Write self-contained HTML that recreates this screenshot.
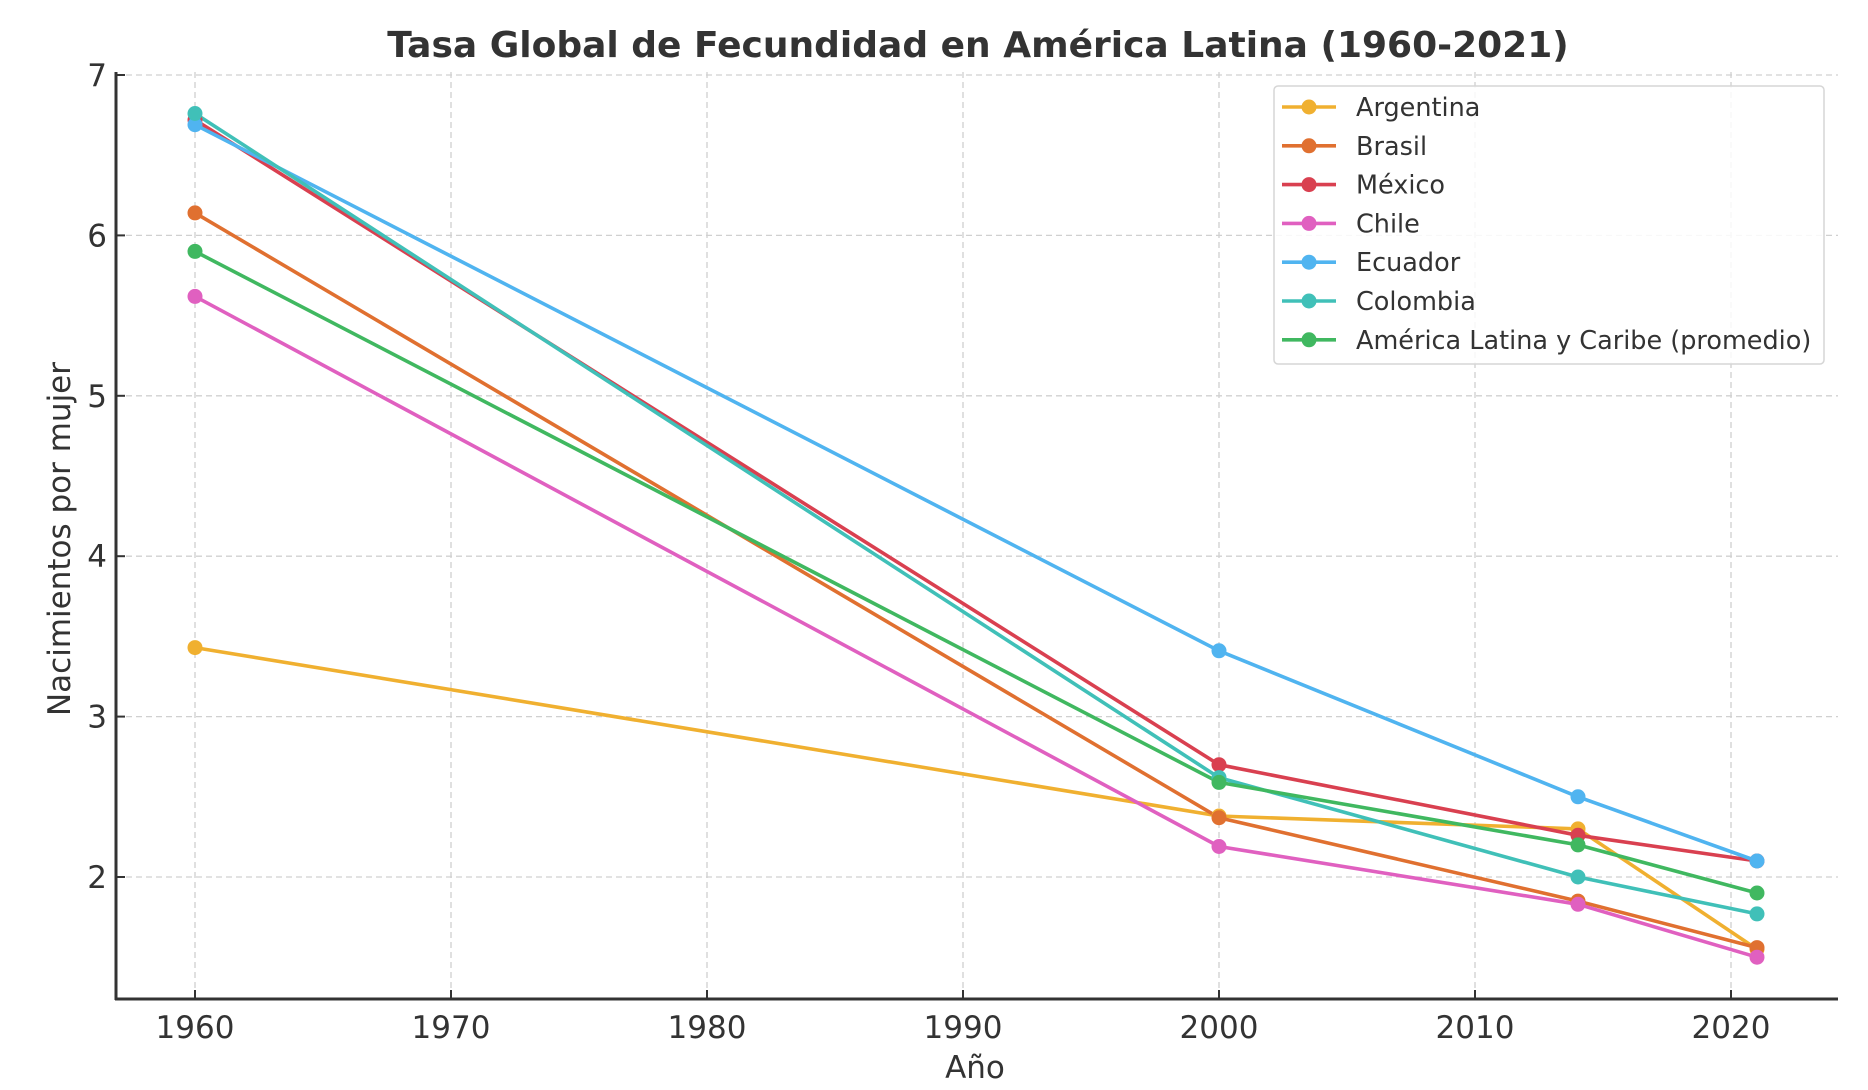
<!DOCTYPE html>
<html><head><meta charset="utf-8"><style>html,body{margin:0;padding:0;background:#fff}svg{display:block}</style></head>
<body>
<svg width="1868" height="1090" viewBox="0 0 1868 1090" xmlns="http://www.w3.org/2000/svg" font-family="DejaVu Sans, Liberation Sans, sans-serif">
<rect width="1868" height="1090" fill="#fff"/>
<text x="978" y="57" text-anchor="middle" font-size="36" font-weight="bold" fill="#333">Tasa Global de Fecundidad en América Latina (1960-2021)</text>
<g stroke="#d0d0d0" stroke-width="1.3" stroke-dasharray="6,4">
<line x1="195" y1="72" x2="195" y2="999"/><line x1="451" y1="72" x2="451" y2="999"/><line x1="707" y1="72" x2="707" y2="999"/><line x1="963" y1="72" x2="963" y2="999"/><line x1="1219" y1="72" x2="1219" y2="999"/><line x1="1475" y1="72" x2="1475" y2="999"/><line x1="1731" y1="72" x2="1731" y2="999"/>
<line x1="116" y1="75" x2="1838" y2="75"/><line x1="116" y1="235.4" x2="1838" y2="235.4"/><line x1="116" y1="395.8" x2="1838" y2="395.8"/><line x1="116" y1="556.2" x2="1838" y2="556.2"/><line x1="116" y1="716.6" x2="1838" y2="716.6"/><line x1="116" y1="877" x2="1838" y2="877"/>
</g>
<g stroke="#333" stroke-width="3" fill="none">
<line x1="116" y1="72" x2="116" y2="1000"/><line x1="115" y1="999" x2="1838" y2="999"/>
</g>
<g stroke="#333" stroke-width="2">
<line x1="116" y1="75" x2="125" y2="75"/><line x1="116" y1="235.4" x2="125" y2="235.4"/><line x1="116" y1="395.8" x2="125" y2="395.8"/><line x1="116" y1="556.2" x2="125" y2="556.2"/><line x1="116" y1="716.6" x2="125" y2="716.6"/><line x1="116" y1="877" x2="125" y2="877"/>
<line x1="195" y1="999" x2="195" y2="990"/><line x1="451" y1="999" x2="451" y2="990"/><line x1="707" y1="999" x2="707" y2="990"/><line x1="963" y1="999" x2="963" y2="990"/><line x1="1219" y1="999" x2="1219" y2="990"/><line x1="1475" y1="999" x2="1475" y2="990"/><line x1="1731" y1="999" x2="1731" y2="990"/>
</g>
<g font-size="31" fill="#333" text-anchor="end">
<text x="107" y="86">7</text><text x="107" y="246.4">6</text><text x="107" y="406.8">5</text><text x="107" y="567.2">4</text><text x="107" y="727.6">3</text><text x="107" y="888">2</text>
</g>
<g font-size="31" fill="#333" text-anchor="middle">
<text x="195" y="1038">1960</text><text x="451" y="1038">1970</text><text x="707" y="1038">1980</text><text x="963" y="1038">1990</text><text x="1219" y="1038">2000</text><text x="1475" y="1038">2010</text><text x="1731" y="1038">2020</text>
<text x="975" y="1078">Año</text>
<text transform="translate(70,539) rotate(-90)">Nacimientos por mujer</text>
</g>
<g stroke-width="3.6" fill="none" stroke-linejoin="round">
<polyline stroke="#f0b030" points="195,647.6 1219,816 1578,828.9 1757,949.2"/>
<polyline stroke="#e07030" points="195,212.9 1219,817.7 1578,901.1 1757,947.6"/>
<polyline stroke="#d94050" points="195,119.9 1219,764.7 1578,835.3 1757,861"/>
<polyline stroke="#e060c0" points="195,296.4 1219,846.5 1578,904.3 1757,957.2"/>
<polyline stroke="#50b4f0" points="195,124.7 1219,650.8 1578,796.8 1757,861"/>
<polyline stroke="#40c0b8" points="195,113.5 1219,777.6 1578,877 1757,913.9"/>
<polyline stroke="#40b860" points="195,251.4 1219,782.4 1578,844.9 1757,893"/>
</g>
<g>
<g fill="#f0b030"><circle cx="195" cy="647.6" r="7.5"/><circle cx="1219" cy="816" r="7.5"/><circle cx="1578" cy="828.9" r="7.5"/><circle cx="1757" cy="949.2" r="7.5"/></g>
<g fill="#e07030"><circle cx="195" cy="212.9" r="7.5"/><circle cx="1219" cy="817.7" r="7.5"/><circle cx="1578" cy="901.1" r="7.5"/><circle cx="1757" cy="947.6" r="7.5"/></g>
<g fill="#d94050"><circle cx="195" cy="119.9" r="7.5"/><circle cx="1219" cy="764.7" r="7.5"/><circle cx="1578" cy="835.3" r="7.5"/><circle cx="1757" cy="861" r="7.5"/></g>
<g fill="#e060c0"><circle cx="195" cy="296.4" r="7.5"/><circle cx="1219" cy="846.5" r="7.5"/><circle cx="1578" cy="904.3" r="7.5"/><circle cx="1757" cy="957.2" r="7.5"/></g>
<g fill="#50b4f0"><circle cx="195" cy="124.7" r="7.5"/><circle cx="1219" cy="650.8" r="7.5"/><circle cx="1578" cy="796.8" r="7.5"/><circle cx="1757" cy="861" r="7.5"/></g>
<g fill="#40c0b8"><circle cx="195" cy="113.5" r="7.5"/><circle cx="1219" cy="777.6" r="7.5"/><circle cx="1578" cy="877" r="7.5"/><circle cx="1757" cy="913.9" r="7.5"/></g>
<g fill="#40b860"><circle cx="195" cy="251.4" r="7.5"/><circle cx="1219" cy="782.4" r="7.5"/><circle cx="1578" cy="844.9" r="7.5"/><circle cx="1757" cy="893" r="7.5"/></g>
</g>
<rect x="1274" y="86" width="550" height="278" rx="4" fill="#fff" fill-opacity="0.85" stroke="#d6d6d6" stroke-width="1.5"/>
<g stroke-width="3.6" font-size="25.5" fill="#333">
<line x1="1282" y1="107" x2="1336" y2="107" stroke="#f0b030"/><circle cx="1309" cy="107" r="7.5" fill="#f0b030"/><text x="1356" y="116">Argentina</text>
<line x1="1282" y1="145.8" x2="1336" y2="145.8" stroke="#e07030"/><circle cx="1309" cy="145.8" r="7.5" fill="#e07030"/><text x="1356" y="154.8">Brasil</text>
<line x1="1282" y1="184.6" x2="1336" y2="184.6" stroke="#d94050"/><circle cx="1309" cy="184.6" r="7.5" fill="#d94050"/><text x="1356" y="193.6">México</text>
<line x1="1282" y1="223.4" x2="1336" y2="223.4" stroke="#e060c0"/><circle cx="1309" cy="223.4" r="7.5" fill="#e060c0"/><text x="1356" y="232.4">Chile</text>
<line x1="1282" y1="262.2" x2="1336" y2="262.2" stroke="#50b4f0"/><circle cx="1309" cy="262.2" r="7.5" fill="#50b4f0"/><text x="1356" y="271.2">Ecuador</text>
<line x1="1282" y1="301" x2="1336" y2="301" stroke="#40c0b8"/><circle cx="1309" cy="301" r="7.5" fill="#40c0b8"/><text x="1356" y="310">Colombia</text>
<line x1="1282" y1="339.8" x2="1336" y2="339.8" stroke="#40b860"/><circle cx="1309" cy="339.8" r="7.5" fill="#40b860"/><text x="1356" y="348.8">América Latina y Caribe (promedio)</text>
</g>
</svg>
</body></html>
